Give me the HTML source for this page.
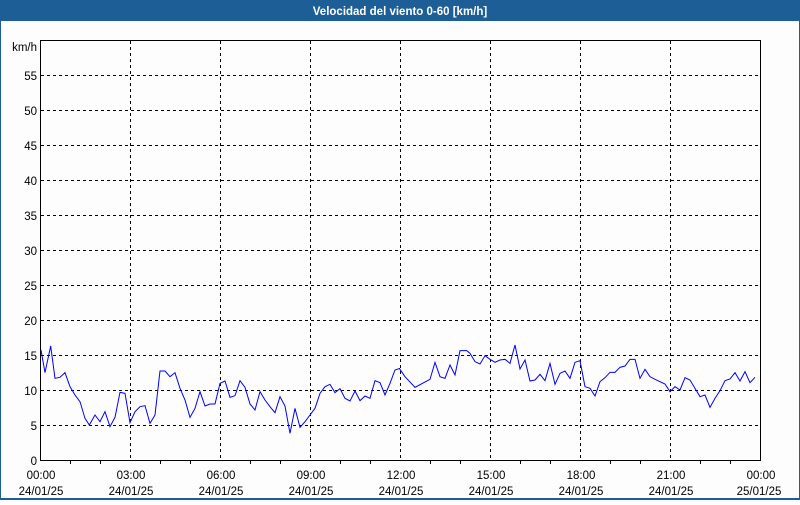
<!DOCTYPE html>
<html><head><style>
body{margin:0;width:800px;height:500px;overflow:hidden;background:#fff;}
</style></head><body>
<svg width="800" height="500" xmlns="http://www.w3.org/2000/svg" font-family="'Liberation Sans',sans-serif" font-size="11.5">
<rect x="0" y="0" width="800" height="500" fill="#1d5e96"/>
<rect x="1" y="21" width="798" height="477" fill="#fdfdfd"/>
<text x="400" y="15" fill="#fff" font-weight="bold" text-anchor="middle">Velocidad del viento 0-60 [km/h]</text>
<g stroke="#000" stroke-dasharray="3,3" stroke-width="1">
<line x1="41" x2="761" y1="75.5" y2="75.5"/><line x1="41" x2="761" y1="110.5" y2="110.5"/>
<line x1="41" x2="761" y1="145.5" y2="145.5"/><line x1="41" x2="761" y1="180.5" y2="180.5"/>
<line x1="41" x2="761" y1="215.5" y2="215.5"/><line x1="41" x2="761" y1="250.5" y2="250.5"/>
<line x1="41" x2="761" y1="285.5" y2="285.5"/><line x1="41" x2="761" y1="320.5" y2="320.5"/>
<line x1="41" x2="761" y1="355.5" y2="355.5"/><line x1="41" x2="761" y1="390.5" y2="390.5"/>
<line x1="41" x2="761" y1="425.5" y2="425.5"/>
<line x1="130.5" x2="130.5" y1="41" y2="460"/><line x1="220.5" x2="220.5" y1="41" y2="460"/>
<line x1="310.5" x2="310.5" y1="41" y2="460"/><line x1="400.5" x2="400.5" y1="41" y2="460"/>
<line x1="490.5" x2="490.5" y1="41" y2="460"/><line x1="580.5" x2="580.5" y1="41" y2="460"/>
<line x1="670.5" x2="670.5" y1="41" y2="460"/>
</g>
<rect x="40.5" y="40.5" width="720" height="420" fill="none" stroke="#000"/>
<g stroke="#000">
<line x1="70.5" x2="70.5" y1="460" y2="464"/><line x1="100.5" x2="100.5" y1="460" y2="464"/>
<line x1="160.5" x2="160.5" y1="460" y2="464"/><line x1="190.5" x2="190.5" y1="460" y2="464"/>
<line x1="250.5" x2="250.5" y1="460" y2="464"/><line x1="280.5" x2="280.5" y1="460" y2="464"/>
<line x1="340.5" x2="340.5" y1="460" y2="464"/><line x1="370.5" x2="370.5" y1="460" y2="464"/>
<line x1="430.5" x2="430.5" y1="460" y2="464"/><line x1="460.5" x2="460.5" y1="460" y2="464"/>
<line x1="520.5" x2="520.5" y1="460" y2="464"/><line x1="550.5" x2="550.5" y1="460" y2="464"/>
<line x1="610.5" x2="610.5" y1="460" y2="464"/><line x1="640.5" x2="640.5" y1="460" y2="464"/>
<line x1="700.5" x2="700.5" y1="460" y2="464"/><line x1="730.5" x2="730.5" y1="460" y2="464"/>
</g>
<g fill="#000" text-anchor="end">
<text x="37" y="51">km/h</text>
<text x="37" y="80">55</text><text x="37" y="115">50</text><text x="37" y="150">45</text>
<text x="37" y="185">40</text><text x="37" y="220">35</text><text x="37" y="255">30</text>
<text x="37" y="290">25</text><text x="37" y="325">20</text><text x="37" y="360">15</text>
<text x="37" y="395">10</text><text x="37" y="430">5</text><text x="37" y="465">0</text>
</g>
<g fill="#000" text-anchor="middle">
<text x="41" y="479">00:00</text><text x="41" y="495">24/01/25</text>
<text x="131" y="479">03:00</text><text x="131" y="495">24/01/25</text>
<text x="221" y="479">06:00</text><text x="221" y="495">24/01/25</text>
<text x="311" y="479">09:00</text><text x="311" y="495">24/01/25</text>
<text x="401" y="479">12:00</text><text x="401" y="495">24/01/25</text>
<text x="491" y="479">15:00</text><text x="491" y="495">24/01/25</text>
<text x="581" y="479">18:00</text><text x="581" y="495">24/01/25</text>
<text x="671" y="479">21:00</text><text x="671" y="495">24/01/25</text>
<text x="761" y="479">00:00</text><text x="759" y="495">25/01/25</text>
</g>
<g transform="translate(30,330) scale(0.3333333)" fill="none" stroke="#0000ff">
<polyline vector-effect="non-scaling-stroke" points="33,60 45,128 62,48 75,145 90,142 105,128 120,170 135,195 150,215 165,265 178,285 195,255 210,275 225,245 240,290 255,262 270,187 285,190 300,278 315,245 330,230 345,227 360,280 375,255 390,123 405,123 420,140 435,128 450,175 465,210 480,262 495,235 510,185 525,228 540,222 555,222 570,160 585,153 600,202 615,197 630,152 645,172 660,222 675,240 690,185 705,210 720,230 735,248 750,200 765,228 780,310 795,235 810,292 825,275 840,255 855,235 870,190 885,170 900,163 915,188 930,176 945,205 960,213 975,183 990,212 1005,198 1020,205 1035,152 1050,158 1065,195 1080,160 1095,120 1110,115"/>
</g>
<g transform="translate(400,330) scale(0.3333333)" fill="none" stroke="#0000ff">
<polyline vector-effect="non-scaling-stroke" points="-3,115 0,118 15,140 45,172 90,148 105,97 120,140 135,145 150,105 165,135 180,62 200,62 210,70 225,95 240,102 255,77 270,88 285,97 300,90 315,88 330,100 345,45 360,117 375,90 390,153 405,150 420,133 435,152 450,100 465,163 480,130 495,123 510,145 525,97 540,92 555,170 570,175 585,198 600,155 615,143 630,127 645,127 660,112 675,108 690,88 705,88 720,145 735,118 750,140 765,148 780,155 795,162 810,185 825,170 840,180 855,143 870,150 885,175 900,200 915,195 930,232 945,205 960,182 975,152 990,147 1005,128 1020,153 1035,125 1050,158 1065,142"/>
</g>
</svg>
</body></html>
